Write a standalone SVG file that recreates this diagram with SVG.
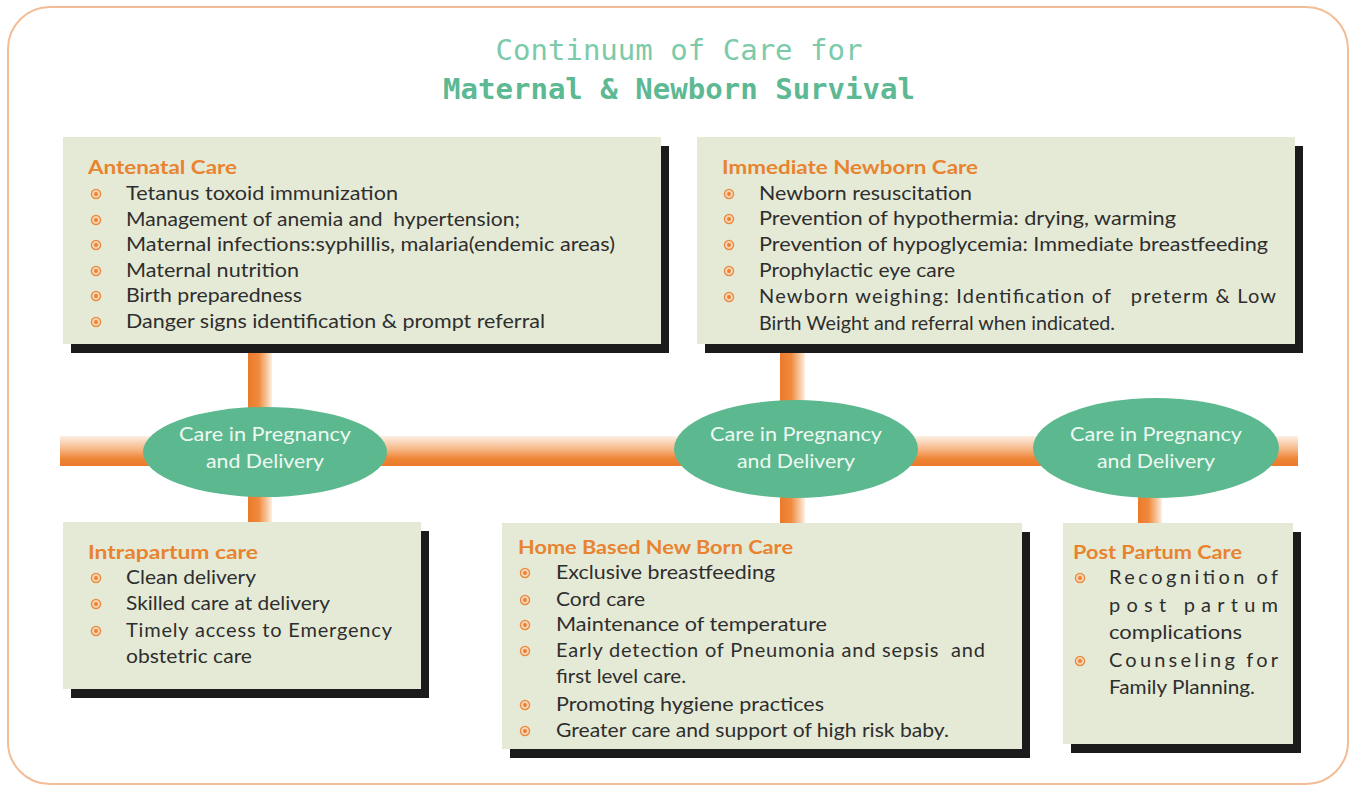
<svg xmlns="http://www.w3.org/2000/svg" width="1351" height="787" viewBox="0 0 1351 787">
<defs>
<linearGradient id="gh" x1="0" y1="0" x2="0" y2="1">
<stop offset="0" stop-color="#fdf0e4"/>
<stop offset="0.45" stop-color="#f6b584"/>
<stop offset="0.75" stop-color="#ee8537"/>
<stop offset="1" stop-color="#ec7a2a"/>
</linearGradient>
<linearGradient id="gv" x1="0" y1="0" x2="1" y2="0">
<stop offset="0" stop-color="#ec7a2a"/>
<stop offset="0.45" stop-color="#ef8a3e"/>
<stop offset="0.8" stop-color="#f8c9a2"/>
<stop offset="1" stop-color="#fdf0e4"/>
</linearGradient>
<g id="bul">
<circle r="4.6" fill="#f9d3b0" stroke="#e98a3e" stroke-width="1.3"/>
<circle r="1.9" fill="#e67f33"/>
</g>
</defs>
<style>
.frame{fill:#ffffff;stroke:#f2bc94;stroke-width:2}
.box{fill:#e5ead7}
.sh{fill:#1b1b1b}
.hd{font-family:Lato,"Liberation Sans",sans-serif;font-weight:bold;font-size:19px;fill:#e8832f}
.it{font-family:Lato,"Liberation Sans",sans-serif;font-size:20px;fill:#2e2e2e}
.el{fill:#5cb88f}
.et{font-family:Lato,"Liberation Sans",sans-serif;font-size:20px;fill:#eef8f2;text-anchor:middle}
.t1{font-family:"DejaVu Sans Mono","Liberation Mono",monospace;font-size:29px;fill:#7ccaa9;text-anchor:middle}
.t2{font-family:"DejaVu Sans Mono","Liberation Mono",monospace;font-size:29px;font-weight:bold;fill:#5db894;text-anchor:middle}
</style>
<rect class="frame" x="8" y="7" width="1340" height="777" rx="42"/>
<g id="title">
<text class="t1" x="679" y="60" textLength="367" lengthAdjust="spacingAndGlyphs">Continuum of Care for</text>
<text class="t2" x="679" y="99" textLength="472" lengthAdjust="spacingAndGlyphs">Maternal &amp; Newborn Survival</text>
</g>
<g id="connectors">
<rect x="60" y="436" width="1238" height="30" fill="url(#gh)"/>
<rect x="248" y="352" width="24" height="60" fill="url(#gv)"/>
<rect x="248" y="492" width="24" height="32" fill="url(#gv)"/>
<rect x="780" y="352" width="25" height="52" fill="url(#gv)"/>
<rect x="780" y="494" width="25" height="31" fill="url(#gv)"/>
<rect x="1138" y="494" width="24" height="31" fill="url(#gv)"/>
</g>
<g id="hub1">
<ellipse class="el" cx="265" cy="452" rx="122" ry="45"/>
<text class="et" x="265" y="441" textLength="172" lengthAdjust="spacingAndGlyphs">Care in Pregnancy</text>
<text class="et" x="265" y="468" textLength="118" lengthAdjust="spacingAndGlyphs">and Delivery</text>
</g>
<g id="hub2">
<ellipse class="el" cx="796" cy="449" rx="122" ry="49"/>
<text class="et" x="796" y="441" textLength="172" lengthAdjust="spacingAndGlyphs">Care in Pregnancy</text>
<text class="et" x="796" y="468" textLength="118" lengthAdjust="spacingAndGlyphs">and Delivery</text>
</g>
<g id="hub3">
<ellipse class="el" cx="1156" cy="448" rx="123" ry="50"/>
<text class="et" x="1156" y="441" textLength="172" lengthAdjust="spacingAndGlyphs">Care in Pregnancy</text>
<text class="et" x="1156" y="468" textLength="118" lengthAdjust="spacingAndGlyphs">and Delivery</text>
</g>
<g id="antenatal">
<rect class="sh" x="71" y="146" width="598" height="207"/>
<rect class="box" x="63" y="137" width="598" height="207"/>
<text class="hd" x="88" y="174" textLength="149" lengthAdjust="spacingAndGlyphs">Antenatal Care</text>
<use href="#bul" x="96" y="194"/><text class="it" x="126" y="200" textLength="272" lengthAdjust="spacingAndGlyphs">Tetanus toxoid immunization</text>
<use href="#bul" x="96" y="220"/><text class="it" x="126" y="226" textLength="394" lengthAdjust="spacingAndGlyphs" xml:space="preserve">Management of anemia and  hypertension;</text>
<use href="#bul" x="96" y="245"/><text class="it" x="126" y="251" textLength="489" lengthAdjust="spacingAndGlyphs">Maternal infections:syphillis, malaria(endemic areas)</text>
<use href="#bul" x="96" y="271"/><text class="it" x="126" y="277" textLength="173" lengthAdjust="spacingAndGlyphs">Maternal nutrition</text>
<use href="#bul" x="96" y="296"/><text class="it" x="126" y="302" textLength="176" lengthAdjust="spacingAndGlyphs">Birth preparedness</text>
<use href="#bul" x="96" y="322"/><text class="it" x="126" y="328" textLength="419" lengthAdjust="spacingAndGlyphs">Danger signs identification &amp; prompt referral</text>
</g>
<g id="immediate">
<rect class="sh" x="705" y="146" width="598" height="207"/>
<rect class="box" x="697" y="137" width="598" height="207"/>
<text class="hd" x="722" y="174" textLength="256" lengthAdjust="spacingAndGlyphs">Immediate Newborn Care</text>
<use href="#bul" x="729" y="194"/><text class="it" x="759" y="200" textLength="213" lengthAdjust="spacingAndGlyphs">Newborn resuscitation</text>
<use href="#bul" x="729" y="219"/><text class="it" x="759" y="225" textLength="417" lengthAdjust="spacingAndGlyphs">Prevention of hypothermia: drying, warming</text>
<use href="#bul" x="729" y="245"/><text class="it" x="759" y="251" textLength="509" lengthAdjust="spacingAndGlyphs">Prevention of hypoglycemia: Immediate breastfeeding</text>
<use href="#bul" x="729" y="271"/><text class="it" x="759" y="277" textLength="196" lengthAdjust="spacingAndGlyphs">Prophylactic eye care</text>
<use href="#bul" x="729" y="297"/><text class="it" x="759" y="303" textLength="517" lengthAdjust="spacing" xml:space="preserve">Newborn weighing: Identification of   preterm &amp; Low</text>
<text class="it" x="759" y="330" textLength="356" lengthAdjust="spacingAndGlyphs">Birth Weight and referral when indicated.</text>
</g>
<g id="intrapartum">
<rect class="sh" x="71" y="531" width="358" height="167"/>
<rect class="box" x="63" y="522" width="358" height="167"/>
<text class="hd" x="88" y="559" textLength="170" lengthAdjust="spacingAndGlyphs">Intrapartum care</text>
<use href="#bul" x="96" y="578"/><text class="it" x="126" y="584" textLength="130" lengthAdjust="spacingAndGlyphs">Clean delivery</text>
<use href="#bul" x="96" y="604"/><text class="it" x="126" y="610" textLength="204" lengthAdjust="spacingAndGlyphs">Skilled care at delivery</text>
<use href="#bul" x="96" y="631"/><text class="it" x="126" y="637" textLength="266" lengthAdjust="spacing">Timely access to Emergency</text>
<text class="it" x="126" y="663" textLength="126" lengthAdjust="spacingAndGlyphs">obstetric care</text>
</g>
<g id="homebased">
<rect class="sh" x="510" y="532" width="520" height="226"/>
<rect class="box" x="502" y="523" width="520" height="226"/>
<text class="hd" x="518" y="554" textLength="275" lengthAdjust="spacingAndGlyphs">Home Based New Born Care</text>
<use href="#bul" x="525" y="573"/><text class="it" x="556" y="579" textLength="219" lengthAdjust="spacingAndGlyphs">Exclusive breastfeeding</text>
<use href="#bul" x="525" y="600"/><text class="it" x="556" y="606" textLength="89" lengthAdjust="spacingAndGlyphs">Cord care</text>
<use href="#bul" x="525" y="625"/><text class="it" x="556" y="631" textLength="271" lengthAdjust="spacingAndGlyphs">Maintenance of temperature</text>
<use href="#bul" x="525" y="651"/><text class="it" x="556" y="657" textLength="429" lengthAdjust="spacing" xml:space="preserve">Early detection of Pneumonia and sepsis  and</text>
<text class="it" x="556" y="683" textLength="130" lengthAdjust="spacingAndGlyphs">first level care.</text>
<use href="#bul" x="525" y="705"/><text class="it" x="556" y="711" textLength="268" lengthAdjust="spacingAndGlyphs">Promoting hygiene practices</text>
<use href="#bul" x="525" y="731"/><text class="it" x="556" y="737" textLength="393" lengthAdjust="spacingAndGlyphs">Greater care and support of high risk baby.</text>
</g>
<g id="postpartum">
<rect class="sh" x="1071" y="532" width="230" height="221"/>
<rect class="box" x="1063" y="523" width="230" height="221"/>
<text class="hd" x="1073" y="559" textLength="169" lengthAdjust="spacingAndGlyphs">Post Partum Care</text>
<use href="#bul" x="1080" y="578"/><text class="it" x="1109" y="584" textLength="169" lengthAdjust="spacing">Recognition of</text>
<text class="it" x="1109" y="612" textLength="169" lengthAdjust="spacing">post partum</text>
<text class="it" x="1109" y="639" textLength="133" lengthAdjust="spacingAndGlyphs">complications</text>
<use href="#bul" x="1080" y="661"/><text class="it" x="1109" y="667" textLength="169" lengthAdjust="spacing">Counseling for</text>
<text class="it" x="1109" y="694" textLength="146" lengthAdjust="spacingAndGlyphs">Family Planning.</text>
</g>
</svg>
